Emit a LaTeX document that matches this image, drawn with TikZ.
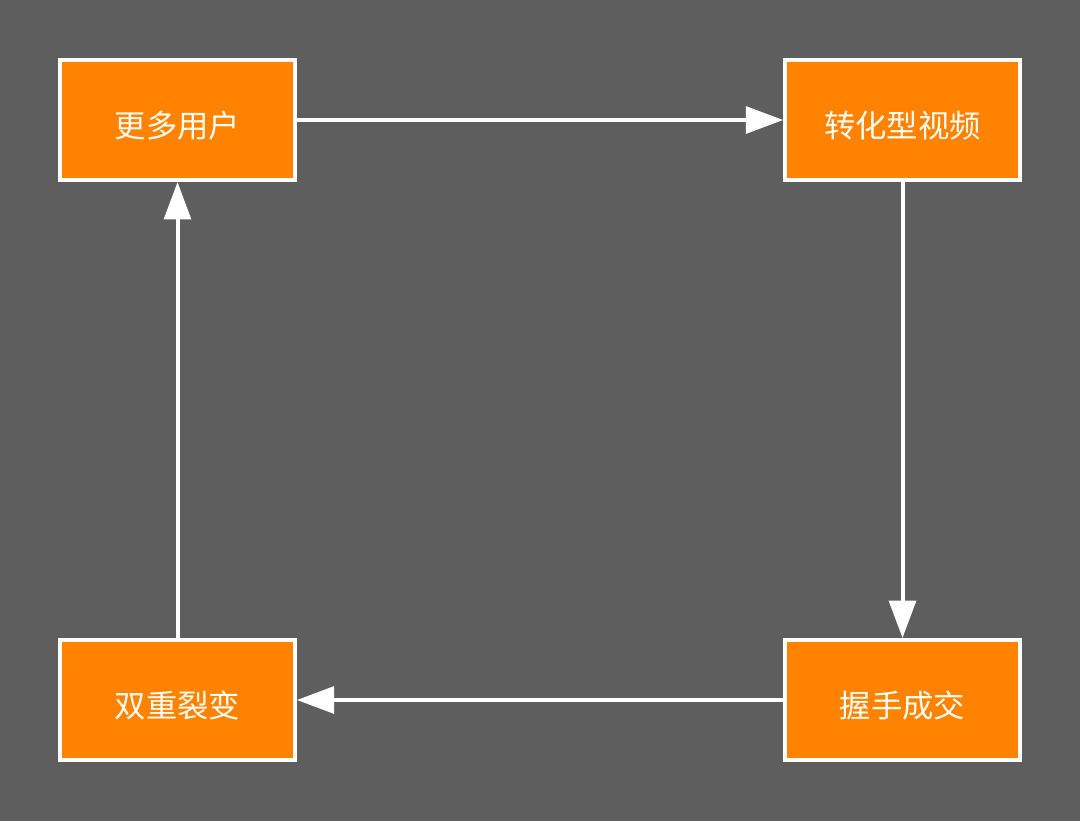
\documentclass[tikz,border=0pt]{standalone}
\usepackage{fontspec}
\newfontfamily\cjk{Noto Sans CJK SC}
\usetikzlibrary{arrows.meta}
\definecolor{bgc}{HTML}{5E5E5E}
\definecolor{boxc}{HTML}{FF8300}
\definecolor{txtc}{HTML}{FFFDF5}
\newcommand{\mylbl}[1]{\raisebox{-4pt}[\height][\depth]{#1}}
\begin{document}
\begin{tikzpicture}[x=0.75pt,y=-0.75pt,
  stagebox/.style={draw=white,fill=boxc,line width=3pt,minimum width=176pt,minimum height=90pt,inner sep=0pt,
    text=txtc,font=\cjk\fontsize{23.5}{28}\selectfont},
  flow/.style={draw=white,line width=3pt,-{Triangle[length=28pt,width=20pt]}}]
\fill[bgc] (0,0) rectangle (1080,821);
\useasboundingbox (0,0) rectangle (1080,821);
\node[stagebox] (a) at (177.5,120) {\mylbl{更多用户}};
\node[stagebox] (b) at (902.5,120) {\mylbl{转化型视频}};
\node[stagebox] (c) at (902.5,700) {\mylbl{握手成交}};
\node[stagebox] (d) at (177.5,700) {\mylbl{双重裂变}};
\draw[flow] (a.east) -- (b.west);
\draw[flow] (b.south) -- (c.north);
\draw[flow] (c.west) -- (d.east);
\draw[flow] (d.north) -- (a.south);
\end{tikzpicture}
\end{document}
